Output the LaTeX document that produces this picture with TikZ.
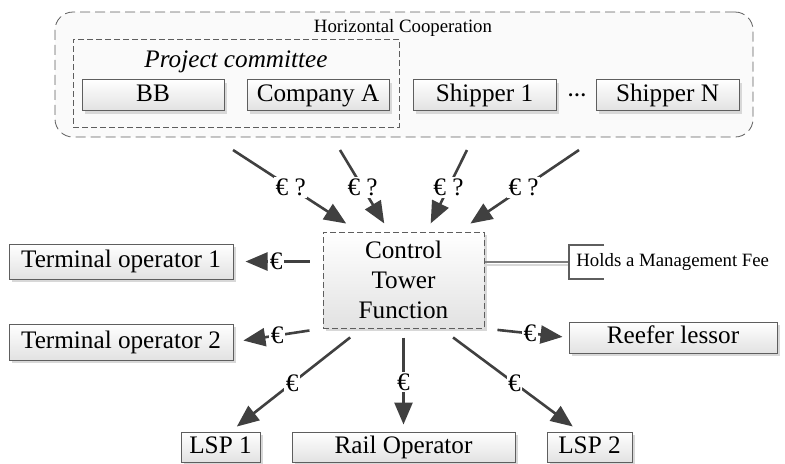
\documentclass[tikz,border=0pt]{standalone}
\usepackage{fontspec}
\setmainfont{Liberation Serif}
\newfontfamily\diagfont{Liberation Serif}
\usepackage{tikz}
\usetikzlibrary{arrows.meta,positioning,calc,shadows}
\usepackage{xcolor}
\definecolor{arrowgray}{HTML}{404040}
\definecolor{linegray}{HTML}{5E5E5E}
\definecolor{fillgray}{HTML}{E2E2E2}
\definecolor{shadowgray}{HTML}{D8D8D8}
\definecolor{coopfill}{HTML}{FAFAFA}
\newcommand\bigtext{\diagfont\fontsize{12.6}{15}\selectfont}
\newcommand\smalltext{\diagfont\fontsize{9.4}{11}\selectfont}

\begin{document}
\begin{tikzpicture}[x=0.5pt,y=-0.5pt,
    party/.style={draw=linegray, line width=0.5pt, top color=white, bottom color=fillgray,
      inner sep=0pt, text height=8.6pt, text depth=2.6pt, font=\bigtext,
      drop shadow={shadow xshift=1.5pt, shadow yshift=-1.5pt, fill=shadowgray, opacity=1}},
    pay/.style={arrowgray, line width=1.3pt, -{Triangle[length=11pt,width=9pt]}},
    money/.style={fill=white, inner sep=0.8pt, text=black, font=\bigtext}]
    \useasboundingbox (0,0) rectangle (785,463);

    % Horizontal cooperation (shippers)
    \node[draw=linegray, fill=coopfill, dash pattern=on 5pt off 2.5pt, rounded corners=9pt,
      minimum width=349pt, minimum height=62.5pt, inner sep=0pt] (coop) at (404,74.5) {};
    \node[font=\smalltext] (cooptitle) at (403,28) {Horizontal Cooperation};
    \node[draw=linegray, dash pattern=on 3pt off 1.5pt, minimum width=163pt, minimum height=44pt,
      inner sep=0pt] (committee) at (236,83) {};
    \node[font=\bigtext\itshape] (comtitle) at (236,62) {Project committee};
    \node[party, minimum width=71pt, minimum height=15.5pt] (bb) at (153,95) {BB};
    \node[party, minimum width=71pt, minimum height=15.5pt] (compa) at (318,95) {Company A};
    \node[party, minimum width=71.5pt, minimum height=15.5pt] (ship1) at (484.5,95) {Shipper 1};
    \node[party, minimum width=71.5pt, minimum height=15.5pt] (shipn) at (667.5,95) {Shipper N};
    \node[inner sep=0pt, font=\smalltext\bfseries] (dots) at (577,95) {\ldots};

    % Control tower
    \node[party, dash pattern=on 3pt off 1.5pt, align=center, text height=, text depth=,
      minimum width=80.5pt, minimum height=48pt] (ctf) at (403.5,280) {Control\\Tower\\Function};

    % Service providers
    \node[party, minimum width=112pt, minimum height=17.5pt] (term1) at (121,261.5) {Terminal operator 1};
    \node[party, minimum width=112pt, minimum height=18pt] (term2) at (121,342) {Terminal operator 2};
    \node[party, minimum width=104pt, minimum height=15.5pt] (reefer) at (673,337.5) {Reefer lessor};
    \node[party, minimum width=39.5pt, minimum height=15pt] (lsp1) at (220.5,447) {LSP 1};
    \node[party, minimum width=111.5pt, minimum height=15pt] (rail) at (403.5,447) {Rail Operator};
    \node[party, minimum width=42.5pt, minimum height=15pt] (lsp2) at (589.5,447) {LSP 2};

    % Management fee note
    \node[anchor=west, inner sep=0pt, font=\smalltext] (fee) at (576,262) {Holds a Management Fee};
    \draw[shadowgray, line width=0.8pt] ([yshift=-1.5pt]ctf.east |- fee.west) -- ([xshift=-3.5pt,yshift=-1.5pt]fee.west);
    \draw[linegray!80, line width=0.7pt] (ctf.east |- fee.west) -- ([xshift=-3.5pt]fee.west);
    \draw[linegray, line width=0.6pt] ([shift={(28,-17)}]fee.west) -- ++(-35,0) |- ([shift={(28,17)}]fee.west);

    % Payments from the shippers
    \coordinate (out1) at (233,150);
    \coordinate (out2) at (340,150);
    \coordinate (out3) at (467,150);
    \coordinate (out4) at (579,150);
    \draw[pay, shorten >=7.3pt] (out1) -- node[pos=0.46, money] {€ ?} ($(ctf.north west)!0.222!(ctf.north east)$);
    \draw[pay, shorten >=4.7pt] (out2) -- node[pos=0.46, money] {€ ?} ($(ctf.north west)!0.411!(ctf.north east)$);
    \draw[pay, shorten >=4.5pt] (out3) -- node[pos=0.46, money] {€ ?} ($(ctf.north west)!0.643!(ctf.north east)$);
    \draw[pay, shorten >=7.1pt] (out4) -- node[pos=0.46, money] {€ ?} ($(ctf.north west)!0.84!(ctf.north east)$);

    % Payments to the providers
    \draw[pay, shorten <=6.5pt, shorten >=6pt] (ctf.west |- term1.east) -- node[pos=0.52, money] {€} (term1.east);
    \draw[pay, shorten <=6.6pt, shorten >=5pt] (ctf.south west) -- node[pos=0.51, money] {€} (term2.east);
    \draw[pay, shorten <=6.5pt, shorten >=3pt] (ctf.south east) -- node[pos=0.54, money] {€} (reefer.west);
    \draw[pay, shorten <=7.2pt, shorten >=4pt] ($(ctf.south)+(-42,0)$) -- node[pos=0.53, money] {€} ($(lsp1.north)+(10,0)$);
    \draw[pay, shorten <=4.5pt, shorten >=3.5pt] (ctf.south) -- node[pos=0.52, money] {€} (rail.north);
    \draw[pay, shorten <=7.5pt, shorten >=4.2pt] ($(ctf.south)+(37.5,0)$) -- node[pos=0.53, money] {€} ($(lsp2.north)+(-10,0)$);
\end{tikzpicture}
\end{document}
